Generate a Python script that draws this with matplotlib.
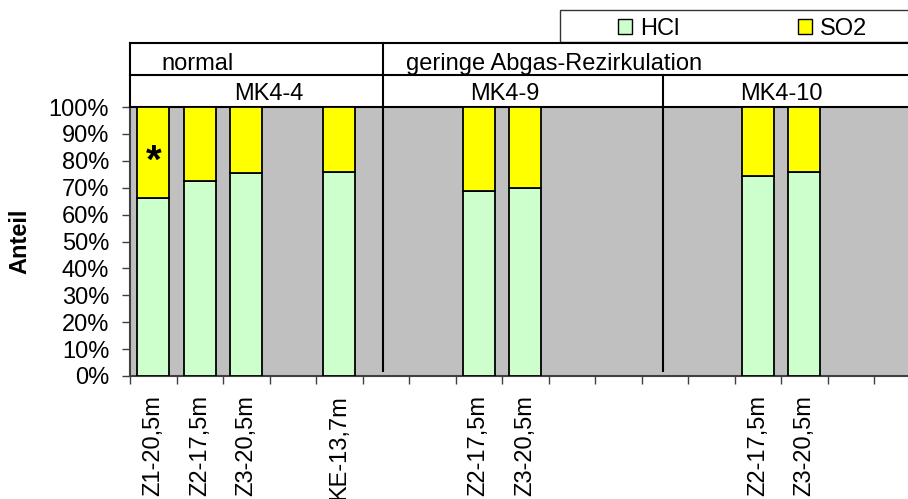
import numpy as np
import matplotlib
matplotlib.use("Agg")
import matplotlib.pyplot as plt
from matplotlib.patches import Rectangle, Patch

plt.rcParams["font.family"] = ["Liberation Sans", "DejaVu Sans"]
FS = 17

# ---- data -------------------------------------------------------------
slot_labels = ["Z1-20,5m", "Z2-17,5m", "Z3-20,5m", "", "KE-13,7m", "", "",
               "Z2-17,5m", "Z3-20,5m", "", "", "", "",
               "Z2-17,5m", "Z3-20,5m", "", ""]
hcl = [66.3, 72.4, 75.3, np.nan, 76.0, np.nan, np.nan,
       68.6, 70.0, np.nan, np.nan, np.nan, np.nan,
       74.4, 76.0, np.nan, np.nan]
so2 = [33.7, 27.6, 24.7, np.nan, 24.0, np.nan, np.nan,
       31.4, 30.0, np.nan, np.nan, np.nan, np.nan,
       25.6, 24.0, np.nan, np.nan]
series_names = ["HCl", "SO2"]
series_colors = ["#CCFFCC", "#FFFF00"]
conditions = ["normal", "geringe Abgas-Rezirkulation"]
units = ["MK4-4", "MK4-9", "MK4-10"]
y_ticks = list(range(0, 101, 10))

# ---- figure / axes ----------------------------------------------------
W, H = 908, 499
fig = plt.figure(figsize=(W / 100, H / 100), dpi=100)
ax = fig.add_axes([130 / W, 123 / H, 778 / W, 269 / H])
ax.set_facecolor("#C0C0C0")
x_lim = (-0.5, -0.5 + 778 / 46.5)

idx = [i for i, v in enumerate(hcl) if not np.isnan(v)]
x = np.array(idx)
h_vals = np.array([hcl[i] for i in idx])
s_vals = np.array([so2[i] for i in idx])
bw = 0.69
ax.bar(x, h_vals, width=bw, color=series_colors[0], edgecolor="black",
       linewidth=1.3, zorder=3)
ax.bar(x, s_vals, bottom=h_vals, width=bw, color=series_colors[1],
       edgecolor="black", linewidth=1.3, zorder=3)

# asterisk on the first column
ax.text(x[0], 75.5, "*", ha="center", va="baseline", fontsize=29,
        fontweight="bold", zorder=4)

# ticks: marks on slot boundaries, labels at slot centres
n = len(slot_labels)
ax.set_xticks(np.arange(-0.5, n + 0.5, 1))
ax.set_xticklabels([])
ax.set_xticks(np.arange(n), minor=True)
ax.set_xticklabels(slot_labels, minor=True, rotation=90, fontsize=FS)
ax.tick_params(axis="x", which="major", length=6, width=1, color="#404040",
               direction="out")
ax.tick_params(axis="x", which="minor", length=0, pad=14)

ax.set_yticks(y_ticks)
ax.set_yticklabels([f"{v}%" for v in y_ticks], fontsize=FS)
ax.tick_params(axis="y", length=6, width=1, color="#404040", pad=9,
               direction="out")

for side in ("left", "bottom"):
    ax.spines[side].set_color("#404040")
    ax.spines[side].set_linewidth(1.5)
ax.spines["top"].set_color("black")
ax.spines["top"].set_linewidth(1.5)
ax.spines["right"].set_visible(False)

fig.text(20 / W, 1 - 241 / H, "Anteil", rotation=90, ha="center",
         va="center", fontsize=FS, fontweight="bold")

# ---- header rows (condition / unit) -----------------------------------
tr = ax.get_xaxis_transform()
rh = 32 / 269
y_row1, y_row2 = 1 + rh, 1 + 2 * rh
x_l, x_r = -0.5, 20
cond_bound = 4.95
unit_bound = 10.96
lk = dict(color="black", lw=1.5, transform=tr, clip_on=False, zorder=5)
ax.plot([x_l, x_r], [y_row1, y_row1], **lk)
ax.plot([x_l, x_r], [y_row2, y_row2], **lk)
ax.plot([x_l, x_l], [1, y_row2], **lk)
ax.plot([cond_bound, cond_bound], [0.02, y_row2], **lk)
ax.plot([unit_bound, unit_bound], [0.02, y_row1], **lk)

rect_bg = Rectangle((x_l, 1), x_r - x_l, 2 * rh, transform=tr,
                    facecolor="white", edgecolor="none", clip_on=False,
                    zorder=1)
ax.add_patch(rect_bg)

cond_x = [0.17, 5.43]
for cx, label in zip(cond_x, conditions):
    ax.text(cx, 1.1375, label, transform=tr, ha="left", va="baseline",
            fontsize=FS, zorder=6)
unit_x = [2.49, 7.56, 13.51]
for ux, label in zip(unit_x, units):
    ax.text(ux, 1.026, label, transform=tr, ha="center", va="baseline",
            fontsize=FS, zorder=6)

ax.set_xlim(*x_lim)
ax.set_ylim(0, 100)

# ---- legend -----------------------------------------------------------
frame = Rectangle((560 / W, 1 - 42 / H), 400 / W, 32 / H,
                  transform=fig.transFigure, facecolor="white",
                  edgecolor="#333333", lw=1.0, zorder=0)
fig.add_artist(frame)
handles = [Patch(facecolor=c, edgecolor="black", linewidth=1.0)
           for c in series_colors]
fig.legend(handles, series_names, ncol=2, loc="center left",
           bbox_to_anchor=(618 / W, 1 - 29 / H), frameon=False,
           borderpad=0, borderaxespad=0, handlelength=0.6,
           handleheight=0.6, handletextpad=0.35, columnspacing=5.0,
           fontsize=FS)

fig.savefig("out.png", dpi=100)
